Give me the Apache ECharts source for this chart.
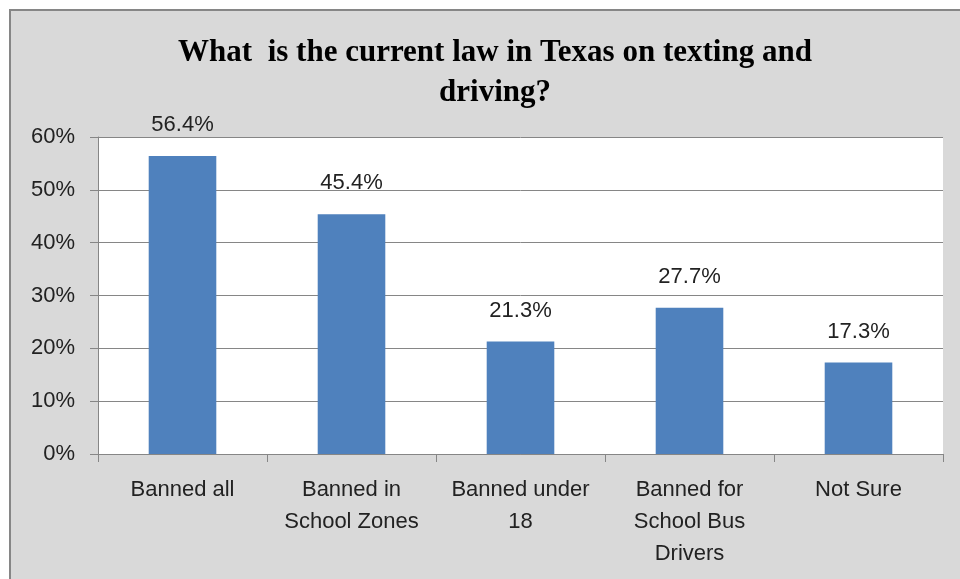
<!DOCTYPE html>
<html><head><meta charset="utf-8">
<script src="https://cdn.jsdelivr.net/npm/echarts@6/dist/echarts.min.js"></script>
<style>html,body{margin:0;padding:0;background:#fff}#c{width:960px;height:579px}</style>
</head><body><div id="c"></div>
<script>
const titleText = 'What  is the current law in Texas on texting and\ndriving?';
const categories = ['Banned all', 'Banned in\nSchool Zones', 'Banned under\n18', 'Banned for\nSchool Bus\nDrivers', 'Not Sure'];
const values = [0.564, 0.454, 0.213, 0.277, 0.173];
const yTicks = { min: 0, max: 0.6, interval: 0.1 };

const chart = echarts.init(document.getElementById('c'), null, { renderer: 'canvas' });
chart.setOption({
  animation: false,
  backgroundColor: '#ffffff',
  graphic: [{
    type: 'rect', z: -10, silent: true,
    shape: { x: 10, y: 10, width: 960, height: 580 },
    style: { fill: '#d9d9d9', stroke: '#868686', lineWidth: 2 }
  }],
  title: {
    text: titleText, left: 490, textAlign: 'center', top: 28,
    textStyle: { fontFamily: 'Liberation Serif', fontWeight: 'bold', fontSize: 31, lineHeight: 40, color: '#000' }
  },
  grid: { left: 98, right: 17, top: 137, bottom: 125, show: true, backgroundColor: '#ffffff', borderWidth: 0 },
  xAxis: {
    type: 'category', data: categories,
    axisLine: { lineStyle: { color: '#868686', width: 1 } },
    axisTick: { show: true, length: 8, lineStyle: { color: '#868686' } },
    axisLabel: { interval: 0, margin: 20, fontFamily: 'Liberation Sans', fontSize: 22, lineHeight: 32, color: '#222', align: 'center' }
  },
  yAxis: {
    type: 'value', min: yTicks.min, max: yTicks.max, interval: yTicks.interval,
    axisLine: { show: true, lineStyle: { color: '#868686' } },
    axisTick: { show: true, length: 8, lineStyle: { color: '#868686' } },
    splitLine: { lineStyle: { color: '#868686', width: 1 } },
    axisLabel: { margin: 23, fontFamily: 'Liberation Sans', fontSize: 22, color: '#222', formatter: v => Math.round(v * 100) + '%' }
  },
  series: [{
    type: 'bar', data: values, barCategoryGap: '60%',
    itemStyle: { color: '#4f81bd' },
    label: { show: true, position: 'top', distance: 20, fontFamily: 'Liberation Sans', fontSize: 22, color: '#222',
      formatter: p => (p.value * 100).toFixed(1) + '%' }
  }]
});
</script></body></html>
